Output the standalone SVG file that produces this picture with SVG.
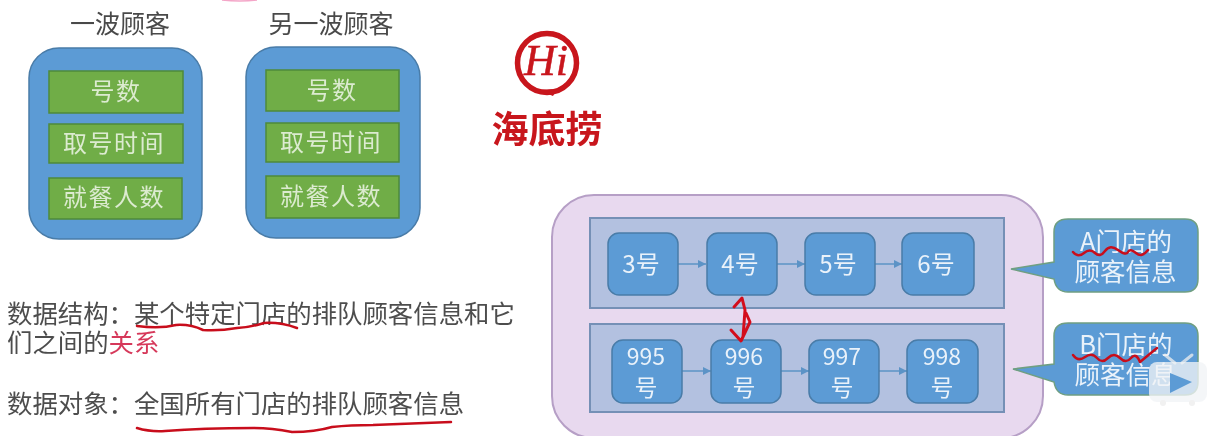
<svg xmlns="http://www.w3.org/2000/svg" width="1218" height="436" viewBox="0 0 1218 436">
<defs>
<filter id="soft" x="-2%" y="-2%" width="104%" height="104%"><feGaussianBlur stdDeviation="0.55"/></filter>
<marker id="ah" markerWidth="9" markerHeight="8" refX="8" refY="4" orient="auto" markerUnits="userSpaceOnUse"><path d="M0 0L8 4L0 8Z" fill="#5b93c6"/></marker>
</defs>
<style>
text{font-family:"Noto Sans CJK SC","Liberation Sans",sans-serif}
.outer{fill:#5b9bd5;stroke:#4a7ca8;stroke-width:1.5}
.field{fill:#70ad47;stroke:#4f8a3a;stroke-width:1.5}
.ft{font-size:24px;fill:#dcebd0;text-anchor:middle;letter-spacing:1.5px}
.head{font-size:25px;fill:#4a4a4a;text-anchor:middle}
.body{font-size:25.4px;fill:#4d4d4d}
.pan{fill:#b3c1e0;stroke:#7490b6;stroke-width:2}
.n{fill:#5b9bd5;stroke:#4a7ca8;stroke-width:1.5}
.nt{font-size:24px;fill:#eaf2fa;text-anchor:middle}
.nt2{font-size:23px;fill:#eaf2fa;text-anchor:middle}
.cb{fill:#5b9bd5;stroke:#6f9f82;stroke-width:1.5}
.ct{font-size:25.5px;fill:#eaf2fa;text-anchor:middle}
.link{fill:none;stroke:#5b93c6;stroke-width:1.5;marker-end:url(#ah)}
.ink{fill:none;stroke:#c8101c;stroke-width:2.5;stroke-linecap:round;stroke-linejoin:round}
</style>
<rect width="1218" height="436" fill="#fff"/>
<g filter="url(#soft)">
<path d="M222 0Q240 2 257 0" fill="none" stroke="#f4a6c8" stroke-width="1.5"/>
<g id="wave-a">
<text class="head" x="120" y="33">一波顾客</text>
<rect class="outer" x="29" y="48" width="173" height="191" rx="30"/>
<rect class="field" x="49" y="71" width="134" height="42"/>
<text class="ft" x="116" y="100">号数</text>
<rect class="field" x="49" y="124" width="134" height="39"/>
<text class="ft" x="114" y="152">取号时间</text>
<rect class="field" x="49" y="178" width="133" height="41"/>
<text class="ft" x="114" y="206">就餐人数</text>
</g>
<g id="wave-b">
<text class="head" x="331" y="33">另一波顾客</text>
<rect class="outer" x="246" y="47" width="174" height="191" rx="30"/>
<rect class="field" x="266" y="70" width="133" height="41"/>
<text class="ft" x="332" y="99">号数</text>
<rect class="field" x="266" y="123" width="133" height="39"/>
<text class="ft" x="331" y="151">取号时间</text>
<rect class="field" x="266" y="176" width="133" height="42"/>
<text class="ft" x="331" y="205">就餐人数</text>
</g>
<g id="logo">
<circle cx="547" cy="63" r="29.5" fill="none" stroke="#c8141c" stroke-width="5.5"/>
<path d="M538 90L553 96L557 89Z" fill="#c8141c"/>
<text x="546" y="75" font-size="44" font-style="italic" text-anchor="middle" fill="#c8141c" stroke="#c8141c" stroke-width=".5" style="font-family:'Liberation Serif',serif">Hi</text>
<text x="547" y="143" font-size="37" font-weight="700" text-anchor="middle" fill="#c8141c">海底捞</text>
</g>
<g id="definitions">
<text class="body" x="7" y="323">数据结构：某个特定门店的排队顾客信息和它</text>
<text class="body" x="7" y="352">们之间的<tspan fill="#d6395a">关系</tspan></text>
<text class="body" x="7" y="413">数据对象：全国所有门店的排队顾客信息</text>
</g>
<g id="container"><rect x="552" y="195" width="491" height="243" rx="42" fill="#e8d9ef" stroke="#b69fc6" stroke-width="2"/></g>
<g id="panel-a"><rect class="pan" x="590" y="218" width="414" height="90"/></g>
<g id="panel-b"><rect class="pan" x="590" y="324" width="414" height="88"/></g>
<g id="connectors">
<path class="link" d="M678 264H706"/><path class="link" d="M777 264H805"/><path class="link" d="M875 264H902"/>
<path class="link" d="M682 371H711"/><path class="link" d="M781 371H809"/><path class="link" d="M879 371H907"/>
</g>
<g id="n3"><rect class="n" x="608" y="233" width="70" height="62" rx="11"/><text class="nt" x="641" y="273">3号</text></g>
<g id="n4"><rect class="n" x="707" y="233" width="70" height="62" rx="11"/><text class="nt" x="740" y="273">4号</text></g>
<g id="n5"><rect class="n" x="805" y="233" width="70" height="62" rx="11"/><text class="nt" x="838" y="273">5号</text></g>
<g id="n6"><rect class="n" x="902" y="233" width="72" height="62" rx="11"/><text class="nt" x="936" y="273">6号</text></g>
<g id="n995"><rect class="n" x="612" y="340" width="70" height="63" rx="11"/><text class="nt2" x="646" y="365">995</text><text class="nt2" x="646" y="396">号</text></g>
<g id="n996"><rect class="n" x="711" y="340" width="70" height="63" rx="11"/><text class="nt2" x="744" y="365">996</text><text class="nt2" x="744" y="396">号</text></g>
<g id="n997"><rect class="n" x="809" y="340" width="70" height="63" rx="11"/><text class="nt2" x="842" y="365">997</text><text class="nt2" x="842" y="396">号</text></g>
<g id="n998"><rect class="n" x="907" y="340" width="71" height="63" rx="11"/><text class="nt2" x="942" y="365">998</text><text class="nt2" x="942" y="396">号</text></g>
<g id="callout-a">
<path class="cb" d="M1068 219H1185Q1198 219 1198 232V279Q1198 292 1185 292H1068Q1056 292 1054 279L1011 269L1054 262V232Q1054 219 1068 219Z"/>
<text class="ct" x="1126" y="251">A门店的</text><text class="ct" x="1125.500" y="281">顾客信息</text>
</g>
<g id="callout-b">
<path class="cb" d="M1068 323H1185Q1198 323 1198 336V382Q1198 395 1185 395H1068Q1056 395 1054 382L1013 369L1054 364V336Q1054 323 1068 323Z"/>
<text class="ct" x="1126" y="354">B门店的</text><text class="ct" x="1125.500" y="384">顾客信息</text>
</g>
<g id="annotations">
<path class="ink" d="M137 326Q160 329 176 325Q190 324 203 330Q220 331 237 328Q252 327 264 323Q280 322 297 328"/>
<path class="ink" d="M137 428Q150 432 165 431Q203 428 254 428Q272 428 292 432Q315 432 332 427Q350 425 373 425L451 422"/>
<path class="ink" style="stroke:#d3101c;stroke-width:3" d="M734 307L742 298L745 310L743 337M731 330L741 341L750 322L746 313"/>
<path class="ink" d="M1073 252Q1078 258 1084 253T1095 253T1105 251T1118 250T1128 252T1136 253T1148 250"/>
<path class="ink" d="M1073 355Q1078 362 1085 357T1097 358T1108 358T1120 358T1131 358T1140 362L1157 348"/>
</g>
<g id="player-badge">
<path d="M1165 355L1175 363M1192 355L1182 363" stroke="#f0f0f0" stroke-width="3" stroke-linecap="round" opacity=".75"/>
<rect x="1149" y="362" width="58" height="40" rx="8" fill="#f1f3f6" opacity=".78"/>
<circle cx="1163" cy="403" r="3" fill="#f1f1f1"/><circle cx="1192" cy="403" r="3" fill="#f1f1f1"/>
<path d="M1170 373L1192 382L1170 393Z" fill="#5b9bd5"/>
</g>
</g>
</svg>
